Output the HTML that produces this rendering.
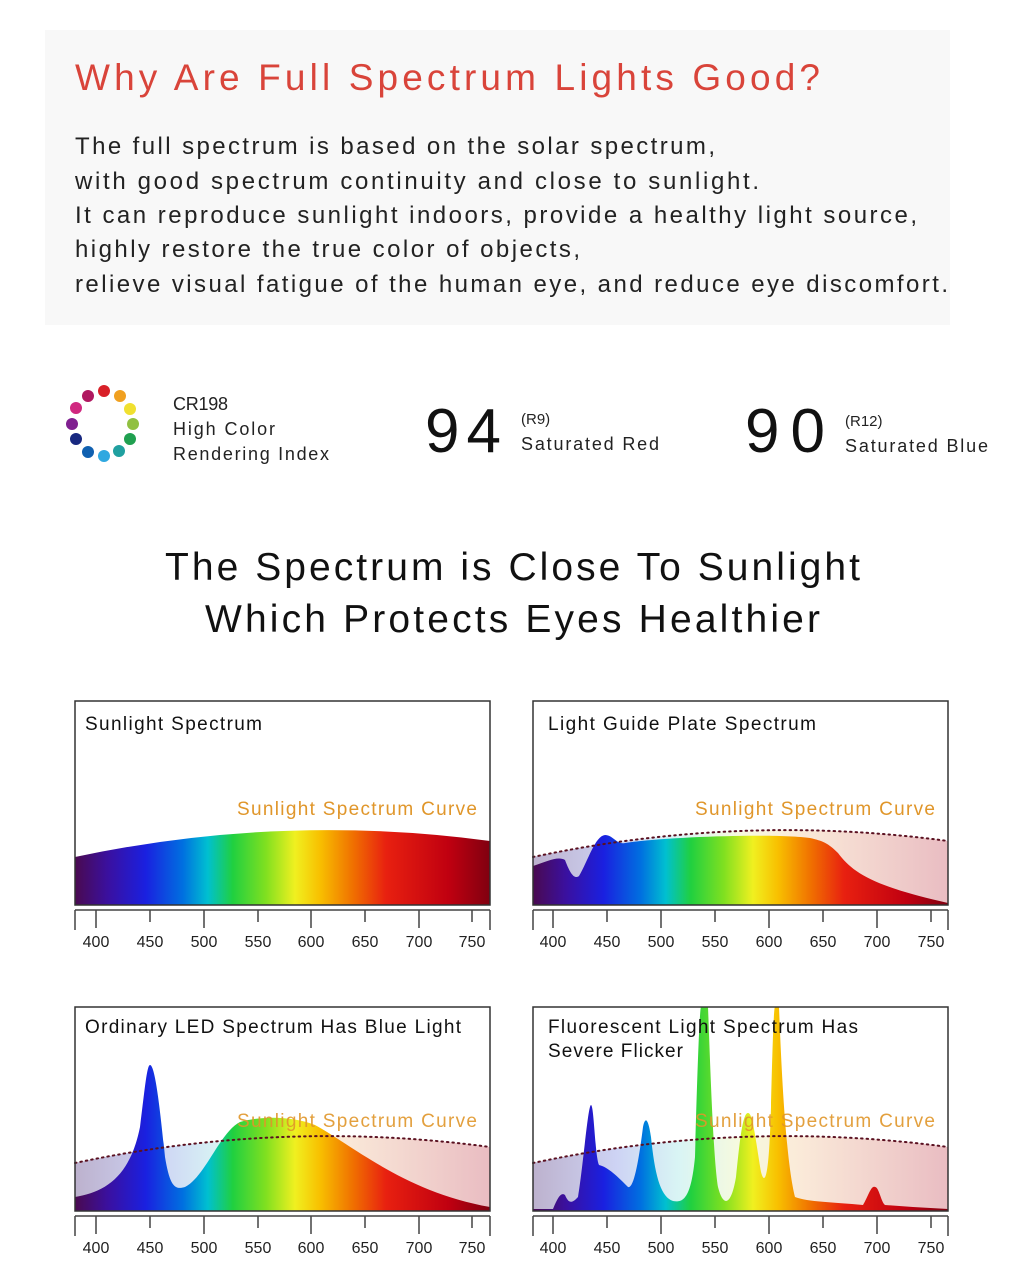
<!DOCTYPE html>
<html><head><meta charset="utf-8"><style>
html,body{margin:0;padding:0;background:#fff}
svg{display:block}
</style></head><body>
<svg width="1024" height="1280" viewBox="0 0 1024 1280" xmlns="http://www.w3.org/2000/svg" font-family="Liberation Sans, sans-serif">
<defs>
<linearGradient id="sp" gradientUnits="userSpaceOnUse" x1="0" y1="0" x2="415" y2="0">
<stop offset="0" stop-color="#4a0a50"/>
<stop offset="0.08" stop-color="#3a10a0"/>
<stop offset="0.17" stop-color="#1a20e0"/>
<stop offset="0.26" stop-color="#0070e0"/>
<stop offset="0.32" stop-color="#00c0d0"/>
<stop offset="0.38" stop-color="#20d040"/>
<stop offset="0.46" stop-color="#80e020"/>
<stop offset="0.53" stop-color="#f0f020"/>
<stop offset="0.59" stop-color="#f8c000"/>
<stop offset="0.67" stop-color="#f07000"/>
<stop offset="0.75" stop-color="#e82010"/>
<stop offset="0.9" stop-color="#c00010"/>
<stop offset="1" stop-color="#800010"/>
</linearGradient>
<linearGradient id="pale" gradientUnits="userSpaceOnUse" x1="0" y1="0" x2="415" y2="0">
<stop offset="0" stop-color="#a090b8"/>
<stop offset="0.2" stop-color="#b8c0ef"/>
<stop offset="0.35" stop-color="#c8f0f0"/>
<stop offset="0.5" stop-color="#f4f8d0"/>
<stop offset="0.65" stop-color="#f8e0c8"/>
<stop offset="1" stop-color="#e0a0a8"/>
</linearGradient>
</defs>
<rect x="45" y="30" width="905" height="295" fill="#f8f8f8"/>
<text x="75" y="90" font-size="37" fill="#d9443a" textLength="745" lengthAdjust="spacing">Why Are Full Spectrum Lights Good?</text>
<g font-size="24" fill="#222">
<text x="75" y="154" textLength="640" lengthAdjust="spacing">The full spectrum is based on the solar spectrum,</text>
<text x="75" y="189" textLength="684" lengthAdjust="spacing">with good spectrum continuity and close to sunlight.</text>
<text x="75" y="223" textLength="842" lengthAdjust="spacing">It can reproduce sunlight indoors, provide a healthy light source,</text>
<text x="75" y="257" textLength="505" lengthAdjust="spacing">highly restore the true color of objects,</text>
<text x="75" y="292" textLength="873" lengthAdjust="spacing">relieve visual fatigue of the human eye, and reduce eye discomfort.</text>
</g>
<g>
<circle cx="104" cy="391" r="6" fill="#d82028"/><circle cx="120" cy="396" r="6" fill="#f0a020"/>
<circle cx="130" cy="409" r="6" fill="#f0e030"/><circle cx="133" cy="424" r="6" fill="#90c040"/>
<circle cx="130" cy="439" r="6" fill="#20a050"/><circle cx="119" cy="451" r="6" fill="#20a0a0"/>
<circle cx="104" cy="456" r="6" fill="#30a8e0"/><circle cx="88" cy="452" r="6" fill="#1060b0"/>
<circle cx="76" cy="439" r="6" fill="#182880"/><circle cx="72" cy="424" r="6" fill="#802090"/>
<circle cx="76" cy="408" r="6" fill="#d02880"/><circle cx="88" cy="396" r="6" fill="#b01860"/>
</g>
<g font-size="18" fill="#222">
<text x="173" y="410" textLength="55" lengthAdjust="spacing">CR198</text>
<text x="173" y="435" textLength="102" lengthAdjust="spacing">High Color</text>
<text x="173" y="460" textLength="156" lengthAdjust="spacing">Rendering Index</text>
<text x="521" y="450" textLength="138" lengthAdjust="spacing">Saturated Red</text>
<text x="845" y="452" textLength="143" lengthAdjust="spacing">Saturated Blue</text>
</g>
<g font-size="15" fill="#222"><text x="521" y="424">(R9)</text><text x="845" y="426">(R12)</text></g>
<g font-size="62" fill="#111"><text x="425" y="452" textLength="76" lengthAdjust="spacing">94</text><text x="745" y="452" textLength="80" lengthAdjust="spacing">90</text></g>
<g font-size="39" fill="#111">
<text x="165" y="580" textLength="695" lengthAdjust="spacing">The Spectrum is Close To Sunlight</text>
<text x="205" y="632" textLength="615" lengthAdjust="spacing">Which Protects Eyes Healthier</text>
</g>

<!-- Panel 1 -->
<g transform="translate(75,701)">
<rect width="415" height="204" fill="#fff"/>
<path d="M0,156 Q207,112 415,140 L415,204 L0,204 Z" fill="url(#sp)"/>
<rect width="415" height="204" fill="none" stroke="#333" stroke-width="1.5"/>
<text x="10" y="29" font-size="19" fill="#111" textLength="177" lengthAdjust="spacing">Sunlight Spectrum</text>
<text x="162" y="114" font-size="19" fill="#e0962a" textLength="240" lengthAdjust="spacing">Sunlight Spectrum Curve</text>
</g>
<!-- Panel 2 -->
<g transform="translate(533,701)">
<rect width="415" height="204" fill="#fff"/>
<path d="M0,156 Q207,112 415,140 L415,204 L0,204 Z" fill="url(#pale)" opacity="0.7"/>
<path d="M0,204 L0,165 C15,160 25,155 32,159 C38,175 42,178 46,175 C55,160 62,135 72,134 C80,134 84,144 92,142 C130,136 240,132 277,137 C290,140 295,142 305,152 C320,172 340,185 415,202 L415,204 Z" fill="url(#sp)"/>
<path d="M0,156 Q207,112 415,140" fill="none" stroke="#5a1020" stroke-width="2" stroke-dasharray="1.5,4" stroke-linecap="round"/>
<rect width="415" height="204" fill="none" stroke="#333" stroke-width="1.5"/>
<text x="15" y="29" font-size="19" fill="#111" textLength="268" lengthAdjust="spacing">Light Guide Plate Spectrum</text>
<text x="162" y="114" font-size="19" fill="#e0962a" textLength="240" lengthAdjust="spacing">Sunlight Spectrum Curve</text>
</g>
<!-- Panel 3 -->
<g transform="translate(75,1007)">
<rect width="415" height="204" fill="#fff"/>
<path d="M0,156 Q207,112 415,140 L415,204 L0,204 Z" fill="url(#pale)" opacity="0.7"/>
<path d="M0,204 L0,190 C30,185 55,170 65,120 C70,80 72,58 75,58 C80,58 85,100 90,150 C95,180 100,183 110,180 C130,170 145,125 165,115 C190,108 220,110 240,118 C280,140 330,185 415,200 L415,204 Z" fill="url(#sp)"/>
<path d="M0,156 Q207,112 415,140" fill="none" stroke="#5a1020" stroke-width="2" stroke-dasharray="1.5,4" stroke-linecap="round"/>
<rect width="415" height="204" fill="none" stroke="#333" stroke-width="1.5"/>
<text x="10" y="26" font-size="19" fill="#111" textLength="376" lengthAdjust="spacing">Ordinary LED Spectrum Has Blue Light</text>
<text x="162" y="120" font-size="19" fill="#e0962a" opacity="0.9" textLength="240" lengthAdjust="spacing">Sunlight Spectrum Curve</text>
</g>
<!-- Panel 4 -->
<g transform="translate(533,1007)">
<rect width="415" height="204" fill="#fff"/>
<path d="M0,156 Q207,112 415,140 L415,204 L0,204 Z" fill="url(#pale)" opacity="0.7"/>
<path d="M0,204 L0,202 L20,202 C25,190 28,185 32,188 C35,195 38,198 45,190 C50,160 55,98 58,98 C61,98 62,150 66,158 C75,160 85,170 95,180 C100,182 105,160 110,120 C112,110 115,110 118,130 C122,170 128,190 140,194 C150,196 158,192 162,150 C165,40 167,0 168,0 L175,0 C177,50 180,150 185,180 C190,200 198,200 203,170 C207,130 210,106 215,106 C220,106 222,130 228,165 C232,180 236,170 238,100 C240,20 241,0 242,0 L246,0 C248,50 252,150 262,190 C275,195 300,195 330,198 C335,190 338,178 342,180 C346,180 348,195 352,198 L380,200 L415,202 L415,204 Z" fill="url(#sp)"/>
<path d="M0,156 Q207,112 415,140" fill="none" stroke="#5a1020" stroke-width="2" stroke-dasharray="1.5,4" stroke-linecap="round"/>
<rect width="415" height="204" fill="none" stroke="#333" stroke-width="1.5"/>
<text x="15" y="26" font-size="19" fill="#111" textLength="310" lengthAdjust="spacing">Fluorescent Light Spectrum Has</text>
<text x="15" y="50" font-size="19" fill="#111" textLength="135" lengthAdjust="spacing">Severe Flicker</text>
<text x="162" y="120" font-size="19" fill="#e0962a" opacity="0.9" textLength="240" lengthAdjust="spacing">Sunlight Spectrum Curve</text>
</g>

<!-- Axes -->
<g stroke="#444" stroke-width="1.5" fill="none">
<path d="M75,910 H490 M75,910 V930 M96,910 V928 M150,910 V922 M204,910 V928 M258,910 V922 M311,910 V928 M365,910 V922 M419,910 V928 M472,910 V922 M490,910 V930"/>
<path d="M533,910 H948 M533,910 V930 M553,910 V928 M607,910 V922 M661,910 V928 M715,910 V922 M769,910 V928 M823,910 V922 M877,910 V928 M931,910 V922 M948,910 V930"/>
<path d="M75,1216 H490 M75,1216 V1236 M96,1216 V1234 M150,1216 V1228 M204,1216 V1234 M258,1216 V1228 M311,1216 V1234 M365,1216 V1228 M419,1216 V1234 M472,1216 V1228 M490,1216 V1236"/>
<path d="M533,1216 H948 M533,1216 V1236 M553,1216 V1234 M607,1216 V1228 M661,1216 V1234 M715,1216 V1228 M769,1216 V1234 M823,1216 V1228 M877,1216 V1234 M931,1216 V1228 M948,1216 V1236"/>
</g>
<g font-size="16" fill="#222" text-anchor="middle">
<text x="96" y="947">400</text><text x="150" y="947">450</text><text x="204" y="947">500</text><text x="258" y="947">550</text><text x="311" y="947">600</text><text x="365" y="947">650</text><text x="419" y="947">700</text><text x="472" y="947">750</text>
<text x="553" y="947">400</text><text x="607" y="947">450</text><text x="661" y="947">500</text><text x="715" y="947">550</text><text x="769" y="947">600</text><text x="823" y="947">650</text><text x="877" y="947">700</text><text x="931" y="947">750</text>
<text x="96" y="1253">400</text><text x="150" y="1253">450</text><text x="204" y="1253">500</text><text x="258" y="1253">550</text><text x="311" y="1253">600</text><text x="365" y="1253">650</text><text x="419" y="1253">700</text><text x="472" y="1253">750</text>
<text x="553" y="1253">400</text><text x="607" y="1253">450</text><text x="661" y="1253">500</text><text x="715" y="1253">550</text><text x="769" y="1253">600</text><text x="823" y="1253">650</text><text x="877" y="1253">700</text><text x="931" y="1253">750</text>
</g>
</svg>
</body></html>
